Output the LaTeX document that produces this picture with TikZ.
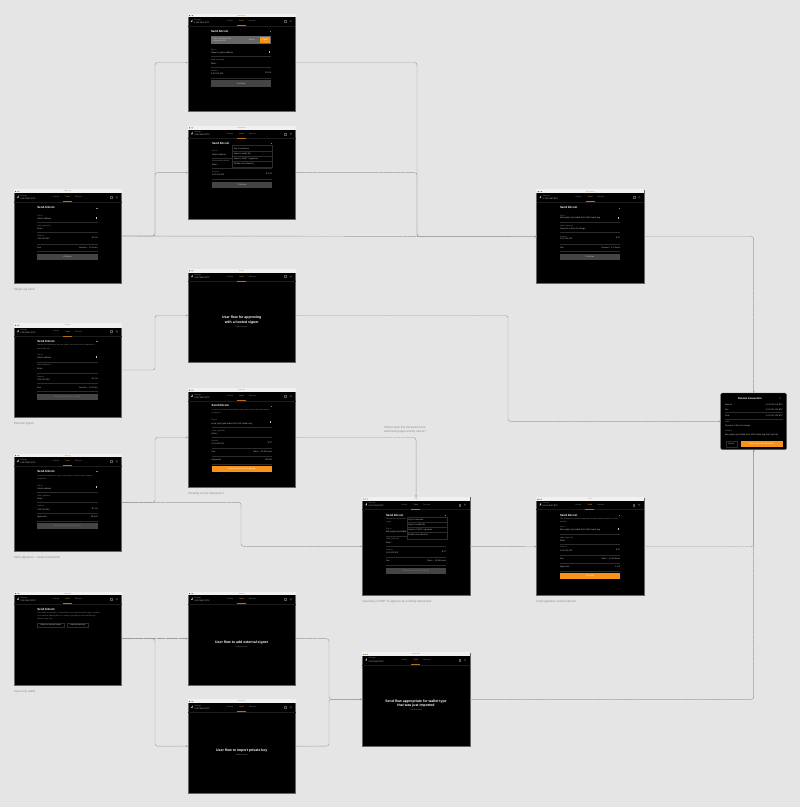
\documentclass[tikz,border=0pt]{standalone}
\usepackage{fontspec}
\setmainfont{Liberation Sans}
\usetikzlibrary{arrows.meta}
\definecolor{bg}{HTML}{E5E5E5}
\definecolor{tbar}{HTML}{F1F1F1}
\definecolor{orng}{HTML}{F7931A}
\definecolor{cap}{HTML}{8C8C8C}
\definecolor{sepc}{HTML}{2C2C2C}
\definecolor{lab}{HTML}{7E7E7E}
\definecolor{val}{HTML}{C4C4C4}
\definecolor{btng}{HTML}{444444}
\definecolor{conn}{HTML}{9C9C9C}
\definecolor{hdrline}{HTML}{1C1C1C}
\definecolor{hico}{HTML}{555555}
\newcounter{nn}
\tikzset{
  x=1pt,y=-1pt,
  windowbox/.style={fill=black,draw=black!60,line width=.35pt,inner sep=0pt,outer sep=0pt,anchor=north west,minimum width=107.5pt},
  txt/.style={inner sep=0pt,outer sep=0pt,anchor=west},
  tiny1/.style={txt,text=lab,font=\fontsize{1.9}{2.2}\selectfont},
  tiny2/.style={txt,text=val,font=\fontsize{2.1}{2.4}\selectfont},
  rgt/.style={txt,anchor=east,text=val,font=\fontsize{2.1}{2.4}\selectfont},
  hd/.style={txt,text=white,font=\fontsize{2.9}{3.2}\selectfont\bfseries},
  big/.style={inner sep=0pt,outer sep=0pt,text=white,font=\fontsize{3.5}{4.3}\selectfont\bfseries,align=center},
  caption/.style={txt,text=cap,font=\fontsize{3}{3.4}\selectfont},
  connector/.style={draw=conn,line width=.45pt,rounded corners=2.5pt,-{Stealth[length=2pt,width=1.8pt]},dash pattern=on 4pt off .4pt},
}
% auto-named text node: [style]{x}{y}{text}
\newcommand\tx[4][tiny1]{\stepcounter{nn}\node[#1] (t\thenn) at ({#2},{#3}) {#4};}
% name, x, top, blacktop, bottom, title
\newcommand\win[6]{%
  \pgfmathsetmacro\hh{#5-#3}%
  \node[windowbox,minimum height=\hh pt] (#1) at (#2,#3) {};
  \begin{scope}[shift={(#2,#3)}]
    \pgfmathsetmacro\bt{#4-#3}%
    \fill[tbar] (-.25,-.25) rectangle (107.75,\bt);
    \fill[red!80!black] (1.6,\bt/2) circle (.55);
    \fill[orange!90] (3.2,\bt/2) circle (.55);
    \fill[green!60!black] (4.8,\bt/2) circle (.55);
    \tx[txt,anchor=center,text=cap,font=\fontsize{1.6}{2}\selectfont]{53.7}{\bt/2}{#6}
    \fill[val] (3,\bt+4.6) -- (4.6,\bt+2) -- (4.6,\bt+4.6) -- cycle;
    \tx[tiny1]{6.3}{\bt+2.4}{Savings}
    \tx[tiny2]{6.3}{\bt+5.4}{0.123 4567 BTC}
    \tx[tiny1,anchor=center]{42}{\bt+4}{Activity}
    \tx[txt,anchor=center,text=orng,font=\fontsize{1.9}{2.2}\selectfont]{53.5}{\bt+4}{Send}
    \tx[tiny1,anchor=center]{64.5}{\bt+4}{Receive}
    \fill[hdrline] (0,\bt+8.6) rectangle (107.5,\bt+8.9);
    \fill[orng!75!black] (49,\bt+8) rectangle (58,\bt+8.7);
    \draw[hico,line width=.25pt] (96.6,\bt+3) rectangle (98.2,\bt+5);
    \draw[hico,line width=.25pt] (102.8,\bt+4) circle (.9);
  \end{scope}}
% x1 x2 ylabel yvalue yline label value right
\newcommand\fld[8]{%
  \tx[tiny1]{#1}{#3}{#6}
  \tx[tiny2]{#1}{#4}{#7}
  \tx[rgt]{#2}{#4-1}{#8}
  \fill[sepc] (#1,#5) rectangle (#2,#5+.35);}
% x1 x2 y yline label right
\newcommand\rowf[6]{%
  \tx[tiny2]{#1}{#3}{#5}
  \tx[rgt]{#2}{#3}{#6}
  \fill[sepc] (#1,#4) rectangle (#2,#4+.35);}
% x1 x2 y1 y2 fill textcolor text
\newcommand\btn[7]{%
  \fill[#5] (#1,#3) rectangle (#2,#4);
  \tx[txt,anchor=center,text=#6,font=\fontsize{2.1}{2.4}\selectfont]{(#1+#2)/2}{(#3+#4)/2}{#7}}
% icon
\newcommand\ico[2]{\fill[val] (#1-.5,#2-1) rectangle (#1+.5,#2+1);}
% chevron-like heading mark
\newcommand\dsh[2]{\fill[lab] (#1-1.5,#2-.2) rectangle (#1,#2+.2);}
% dropdown x1 x2 y1 y2 y-rows
\newcommand\drop[8]{%
  \fill[black] (#1,#3) rectangle (#2,#4);
  \draw[sepc,line width=.35pt] (#1,#3) rectangle (#2,#4);
  \tx[tiny2]{#1+1.5}{#5}{Pay to someone}
  \tx[tiny2]{#1+1.5}{#6}{Import a wallet file}
  \tx[tiny2]{#1+1.5}{#7}{Import a PSBT / signature}
  \tx[tiny2]{#1+1.5}{#8}{Enable coin selection}
  \fill[sepc] (#1,#6-2.6) rectangle (#2,#6-2.3);
  \fill[sepc] (#1,#7-2.6) rectangle (#2,#7-2.3);
  \fill[sepc] (#1,#8-2.6) rectangle (#2,#8-2.3);}
\begin{document}
\begin{tikzpicture}
\useasboundingbox (0,0) rectangle (800,807);
\fill[bg] (0,0) rectangle (800,807);

% ---- connector guides
\coordinate (bA) at (155,0);
\coordinate (bB) at (417,0);
\coordinate (bD) at (508,0);
\coordinate (bE) at (241,0);
\coordinate (bG) at (329,0);

% ---- windows
\win{A}{187.8}{14}{17.3}{111}{Send bitcoin}
\win{B}{188}{126}{129.7}{219.3}{Send bitcoin}
\win{C}{14}{189.3}{193.3}{282.7}{Single-sig}
\win{D}{14}{323}{327.5}{417}{External}
\win{E}{14}{454}{457.3}{550.7}{Multi-sig}
\win{F}{14}{592}{595.3}{685.3}{View-only}
\win{O}{188}{269}{272.6}{362}{Hosted}
\win{G}{188}{388}{392.3}{487}{Multi-sig}
\win{H}{362.3}{497.3}{500.7}{595.3}{PSBT}
\win{I}{536.4}{497.7}{500.7}{595.3}{Final}
\win{J}{536.6}{189.7}{193.3}{283.3}{Send bitcoin}
\win{L}{188}{592}{595.3}{685.3}{External}
\win{M}{188}{699.3}{703.3}{793}{Private key}
\win{N}{362.3}{652.7}{656}{746}{Import flow}
\node[fill=black,draw=black!60,line width=.35pt,rounded corners=1.5pt,inner sep=0pt,outer sep=0pt,anchor=north west,minimum width=66pt,minimum height=56.7pt] (K) at (720.7,393) {};

% ---- connectors
\draw[connector] (C.east) -- (C.east -| bA) -- (bA |- A.west) -- (A.west);
\draw[connector] (C.east) -- (C.east -| bA) -- (bA |- B.west) -- (B.west);
\draw[connector] (C.east) -- (J.west);
\draw[connector] (A.east) -- (A.east -| bB) -- (bB |- J.west) -- (J.west);
\draw[connector] (B.east) -- (B.east -| bB) -- (bB |- J.west) -- (J.west);
\draw[connector] (J.east) -- (J.east -| K.north) -- (K.north);
\draw[connector] (D.east) -- (D.east -| bA) -- (bA |- O.west) -- (O.west);
\draw[connector] (O.east) -- (O.east -| bD) -- (bD |- K.west) -- (K.west);
\draw[connector] (E.east) -- (E.east -| bA) -- (bA |- G.west) -- (G.west);
\draw[connector] (E.east) -- (E.east -| bE) -- (bE |- H.west) -- (H.west);
\draw[connector] (G.east) -- (G.east -| H.north) -- (H.north);
\draw[connector] (H.east) -- (I.west);
\draw[connector] (I.east) -- (I.east -| K.south) -- (K.south);
\draw[connector] (N.east) -- (N.east -| K.south) -- (K.south);
\draw[connector] (F.east) -- (L.west);
\draw[connector] (F.east) -- (F.east -| bA) -- (bA |- M.west) -- (M.west);
\draw[connector] (L.east) -- (L.east -| bG) -- (bG |- N.west) -- (N.west);
\draw[connector] (M.east) -- (M.east -| bG) -- (bG |- N.west) -- (N.west);

% ---- A
\tx[hd]{211}{31.3}{Send bitcoin}\dsh{271}{31.3}
\fill[white!40!black] (211,36) rectangle (271.3,44);
\tx[tiny2]{212.5}{38.6}{Some text about the}
\tx[tiny2]{212.5}{41.4}{unsigned draft}
\tx[tiny2,anchor=center]{252}{40}{Button}
\btn{259.7}{270}{37}{43}{orng}{white}{Send}
\fld{211}{271.3}{50}{52.7}{56.3}{Pay to}{Select or paste address}{}
\ico{269}{51.5}
\fld{211}{271.3}{60}{63.3}{67.3}{Label (optional)}{Enter...}{}
\fld{211}{271.3}{70.7}{73.7}{77.7}{Amount}{0.00 000 000}{\$ 0.00}
\btn{211}{271.3}{80.3}{87}{btng}{val}{Continue}

% ---- B
\tx[hd]{212}{143.3}{Send bitcoin}\dsh{272}{143.3}
\fld{212}{272}{151}{155}{158}{Pay to}{Select address}{}
\fld{212}{272}{161}{165}{168}{Authorization details}{Enter...}{}
\fld{212}{272}{172}{175}{179}{Amount}{0.00 000 000}{\$ 0.00}
\btn{212}{272}{182}{188}{btng}{val}{Continue}
\drop{232.3}{272.3}{145.3}{167}{148.7}{154}{159}{164}

% ---- C
\tx[hd]{37.3}{207.7}{Send bitcoin}\dsh{97.7}{207.7}
\fld{37.3}{97.7}{215.7}{218.7}{221.7}{Pay to}{Select address}{}
\ico{96}{217.5}
\fld{37.3}{97.7}{225.7}{228.7}{232}{Label (optional)}{Enter...}{}
\fld{37.3}{97.7}{236.3}{239}{243.7}{Amount}{0.00 000 000}{\$ 0.00}
\rowf{37.3}{97.7}{247.3}{251}{Fee}{Normal {\fontspec{DejaVu Sans}\char"223C} 1-2 hours}
\btn{37.3}{97.7}{254}{260.3}{btng}{val}{Continue}
\tx[caption]{14}{289.7}{Single-sig send}

% ---- D
\tx[hd]{37.3}{341.3}{Send bitcoin}\dsh{97.7}{341.3}
\tx[tiny1]{37.3}{345.3}{Review the transaction on your signer, then return here to approve it}
\tx[tiny1]{37.3}{348.7}{and send it out.}
\fld{37.3}{97.7}{355}{358}{361.7}{Pay to}{Select address}{}
\ico{96}{356.5}
\fld{37.3}{97.7}{365.3}{368.7}{373.3}{Label (optional)}{Enter...}{}
\fld{37.3}{97.7}{376.7}{379.7}{383.3}{Amount}{0.00 000 000}{\$ 0.00}
\rowf{37.3}{97.7}{387.3}{391}{Fee}{Normal {\fontspec{DejaVu Sans}\char"223C} 1-2 hours}
\btn{37.3}{97.7}{394}{400.3}{btng}{lab}{Approve and review in signer}
\tx[caption]{14}{423.7}{External signer}

% ---- E
\tx[hd]{37.3}{471.3}{Send bitcoin}\dsh{97.7}{471.3}
\tx[tiny1]{37.3}{476}{Create the transaction, sign it, then share it with the other signers}
\tx[tiny1]{37.3}{478.6}{to approve.}
\fld{37.3}{97.7}{485.7}{489}{492.3}{Pay to}{Select address}{}
\ico{96}{487}
\fld{37.3}{97.7}{495.7}{499}{502}{Label (optional)}{Enter...}{}
\fld{37.3}{97.7}{506.3}{509.7}{513}{Amount}{0.00 000 000}{\$ 0.00}
\rowf{37.3}{97.7}{517}{520.7}{Approvals}{\$5,000}
\btn{37.3}{97.7}{523.3}{529.3}{btng}{lab}{Share transaction for signing}
\tx[caption]{14}{557.7}{Multi-signature - create transaction}

% ---- F
\tx[hd]{37.3}{609.3}{Send bitcoin}
\tx[tiny1]{37.3}{613.3}{This wallet is view-only. To send bitcoin you need to add a signer: connect}
\tx[tiny1]{37.3}{616.2}{your external signing device, or import a private key that matches this}
\tx[tiny1]{37.3}{619}{wallet to sign here.}
\draw[sepc,line width=.3pt,fill=black] (37.3,622.7) rectangle (64.3,627.3);
\tx[txt,anchor=center,text=val,font=\fontsize{1.9}{2.2}\selectfont]{50.8}{625}{Add your external signer}
\draw[sepc,line width=.3pt,fill=black] (67.3,622.7) rectangle (88.3,627.3);
\tx[txt,anchor=center,text=val,font=\fontsize{1.9}{2.2}\selectfont]{77.8}{625}{Import private key}
\tx[caption]{14}{691.7}{View-only wallet}

% ---- O
\node[big] (Obig) at (241.7,320) {User flow for approving\\with a hosted signer};
\tx[tiny1,anchor=center]{241.7}{327}{Sub-flow spec}

% ---- G
\tx[hd]{211.7}{405.7}{Send bitcoin}\dsh{272}{405.7}
\tx[tiny1]{211.7}{409.6}{Create the transaction and sign it, then share it with the other signers}
\tx[tiny1]{211.7}{412.6}{to approve.}
\fld{211.7}{272}{419.7}{423.7}{427.3}{Pay to}{bc1q xyhj0 qm4 w8kd 2v0n 5t3h 0w6m 4eg}{}
\ico{270}{422}
\fld{211.7}{272}{430.7}{434}{436.7}{Label (optional)}{Enter...}{}
\fld{211.7}{272}{440.7}{444}{447.7}{Amount}{0.01 000 000}{\$ 37}
\rowf{211.7}{272}{451.7}{455.7}{Fee}{Slow {\fontspec{DejaVu Sans}\char"223C} 12-24 hours}
\rowf{211.7}{272}{459.7}{463.7}{Approvals}{\$5,000}
\btn{211.7}{272}{466.3}{472.3}{orng}{white}{Share transaction for signing}
\tx[caption]{188}{493.3}{Creating a new transaction}

% ---- H
\tx[hd]{386}{515}{Send bitcoin}\dsh{446}{515}
\tx[tiny1]{386}{519}{Transaction will be sent}
\tx[tiny1]{386}{522}{to you.}
\fld{386}{446}{529}{532.3}{536.3}{Pay to}{bc1q xyhj0 qm4 w8kd 2v0n}{}
\fld{386}{446}{539.3}{542.7}{546}{Label (optional)}{Enter...}{}
\fld{386}{446}{549.7}{553}{556.7}{Amount}{0.01 000 000}{\$ 37}
\rowf{386}{446}{561}{564.7}{Fee}{Slow {\fontspec{DejaVu Sans}\char"223C} 12-24 hours}
\btn{386}{446}{568}{573.7}{btng}{lab}{Share transaction for signing}
\drop{406.7}{446.7}{517.3}{538.7}{519.7}{525}{530}{535}
\tx[caption]{362.3}{601.7}{Importing a PSBT to approve an existing transaction}
\node[inner sep=0pt,outer sep=0pt,text=cap,font=\fontsize{2.9}{4}\selectfont,align=center] (Q) at (405,429.3) {Where does this transaction live\\while being approved by others?};

% ---- I
\tx[hd]{560}{515}{Send bitcoin}\dsh{620.3}{515}
\tx[tiny1]{560}{519}{The transaction has been approved, finalize it and broadcast it to the}
\tx[tiny1]{560}{522.3}{network.}
\fld{560}{620.3}{527.3}{530}{534.3}{Pay to}{bc1q xyhj0 qm4 w8kd 2v0n 5t3h 0w6m 4eg}{}
\ico{618.5}{529}
\fld{560}{620.3}{537.7}{540.7}{544}{Label (optional)}{Enter...}{}
\fld{560}{620.3}{547.3}{551}{554.7}{Amount}{0.01 000 000}{\$ 37}
\rowf{560}{620.3}{558.7}{562.7}{Fee}{Slow {\fontspec{DejaVu Sans}\char"223C} 12-24 hours}
\rowf{560}{620.3}{566.7}{570.7}{Approvals}{1 of 2}
\btn{560}{620.3}{573}{579}{orng}{white}{Continue}
\tx[caption]{536.4}{601.7}{Final signature and broadcast}

% ---- J
\tx[hd]{560}{207.7}{Send bitcoin}\dsh{620.3}{207.7}
\fld{560}{620.3}{216}{218.3}{222}{Pay to}{bc1q xyhj0 qm4 w8kd 2v0n 5t3h 0w6m 4eg}{}
\ico{618.5}{217.5}
\fld{560}{620.3}{225.7}{229}{232.3}{Label (optional)}{Payment to Alice for design}{}
\fld{560}{620.3}{236.7}{239}{243.7}{Amount}{0.01 000 000}{\$ 37}
\rowf{560}{620.3}{247.3}{250.7}{Fee}{Normal {\fontspec{DejaVu Sans}\char"223C} 1-2 hours}
\btn{560}{620.3}{254.3}{260}{btng}{val}{Continue}

% ---- K
\tx[txt,anchor=center,text=white,font=\fontsize{2.6}{3}\selectfont\bfseries]{750}{398.7}{Review transaction}
\tx[txt,anchor=center,text=val,font=\fontsize{2.6}{3}\selectfont]{780}{398.7}{×}
\tx[tiny2]{725}{404.7}{Amount}
\tx[rgt]{783}{404.7}{0.01 000 000 BTC}
\rowf{725}{783}{409.3}{412}{Fee}{0.00 000 120 BTC}
\rowf{725}{783}{416}{418.7}{Total}{0.01 000 120 BTC}
\tx[tiny1]{725}{421.7}{Label}
\tx[tiny2]{725}{425.7}{Payment to Alice for design}
\tx[tiny1]{725}{431.3}{Address}
\tx[tiny2]{725}{435}{bc1q xyhj0 qm4 w8kd 2v0n 5t3h 0w6m 4eg 8ca7 lqs3 t9x}
\draw[sepc,line width=.3pt] (725.7,440.7) rectangle (737,447);
\tx[txt,anchor=center,text=val,font=\fontsize{2}{2.4}\selectfont]{731.3}{443.9}{Cancel}
\btn{741}{782.7}{440.7}{447}{orng}{white}{Sign and send transaction}

% ---- L M N
\node[big] (Lbig) at (241.7,642.7) {User flow to add external signer};
\tx[tiny1,anchor=center]{241.7}{646.9}{Sub-flow spec}
\node[big] (Mbig) at (241.7,750.3) {User flow to import private key};
\tx[tiny1,anchor=center]{241.7}{755}{Sub-flow spec}
\node[big] (Nbig) at (416,703.8) {Send flow appropriate for wallet type\\that was just imported};
\tx[tiny1,anchor=center]{416}{710}{Sub-flow spec}
\end{tikzpicture}
\end{document}
